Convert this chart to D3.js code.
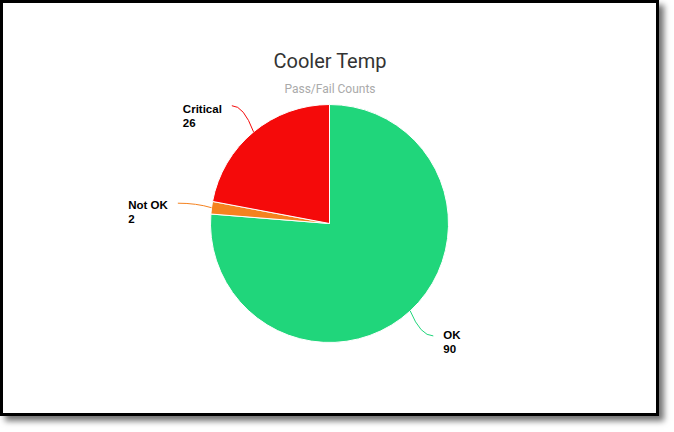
<!DOCTYPE html>
<html>
<head>
<meta charset="utf-8">
<script src="https://cdn.jsdelivr.net/npm/d3@7"></script>
<style>
  body { margin: 0; background: #fff; }
  #frame {
    position: absolute; left: 0; top: 0;
    width: 653px; height: 410px;
    border: 3px solid #000;
    background: #fff;
    box-shadow: 5px 5px 6px rgba(0,0,0,0.55);
  }
  svg { position: absolute; left: 0; top: 0; }
</style>
</head>
<body>
<div id="frame"></div>
<div id="chart"></div>
<script>
// Chart data
const categories = ["OK", "Not OK", "Critical"];
const counts = [90, 2, 26];
const colors = ["#20d67b", "#f5821f", "#f50a0a"];

const width = 674;
const height = 432;
const cx = 329.5;
const cy = 223.5;
const radius = 119;

const svg = d3.select("#chart")
    .append("svg")
    .attr("width", width)
    .attr("height", height);

// Title and subtitle
svg.append("text")
    .attr("x", 330)
    .attr("y", 68)
    .attr("text-anchor", "middle")
    .attr("font-family", "Roboto")
    .attr("font-size", "20px")
    .attr("fill", "#333")
    .text("Cooler Temp");

svg.append("text")
    .attr("x", 330)
    .attr("y", 93)
    .attr("text-anchor", "middle")
    .attr("font-family", "Roboto")
    .attr("font-size", "12px")
    .attr("fill", "#aaa")
    .text("Pass/Fail Counts");

const slices = categories.map((c, i) => ({ name: c, value: counts[i], color: colors[i] }));

const pie = d3.pie()
    .sort(null)
    .value(d => d.value);

const arc = d3.arc()
    .innerRadius(0)
    .outerRadius(radius);

const g = svg.append("g")
    .attr("transform", `translate(${cx},${cy})`);

const arcs = pie(slices);

g.selectAll("path.slice")
    .data(arcs)
    .enter()
    .append("path")
    .attr("class", "slice")
    .attr("d", arc)
    .attr("fill", d => d.data.color)
    .attr("stroke", "#fff")
    .attr("stroke-width", 1);

// Leader lines and labels
const polar = (r, a) => [r * Math.sin(a), -r * Math.cos(a)];

arcs.forEach(d => {
    const mid = (d.startAngle + d.endAngle) / 2;
    const p0 = polar(radius, mid);
    const p2 = polar(radius + 34, mid);
    const ctrl = [p2[0] + (p0[0] - p2[0]) * 0.55, p2[1]];
    const path = d3.path();
    path.moveTo(p0[0], p0[1]);
    path.quadraticCurveTo(ctrl[0], ctrl[1], p2[0], p2[1]);

    g.append("path")
        .attr("d", path.toString())
        .attr("fill", "none")
        .attr("stroke", d.data.color)
        .attr("stroke-width", 1);

    const right = p2[0] > 0;
    const label = g.append("text")
        .attr("font-family", "Liberation Sans, Arial, sans-serif")
        .attr("font-weight", "bold")
        .attr("font-size", "11.5px")
        .attr("fill", "#000");
    label.append("tspan").text(d.data.name);
    label.append("tspan").text(d.data.value);

    const tspans = label.selectAll("tspan").nodes();
    const w = d3.max(tspans, n => n.getComputedTextLength());
    const x = right ? p2[0] + 10 : p2[0] - 10 - w;
    const base = p2[1] + 5 + 3 * Math.cos(mid);
    label.selectAll("tspan")
        .attr("x", x)
        .attr("y", (n, i) => base + i * 14.3);
});
</script>
</body>
</html>
